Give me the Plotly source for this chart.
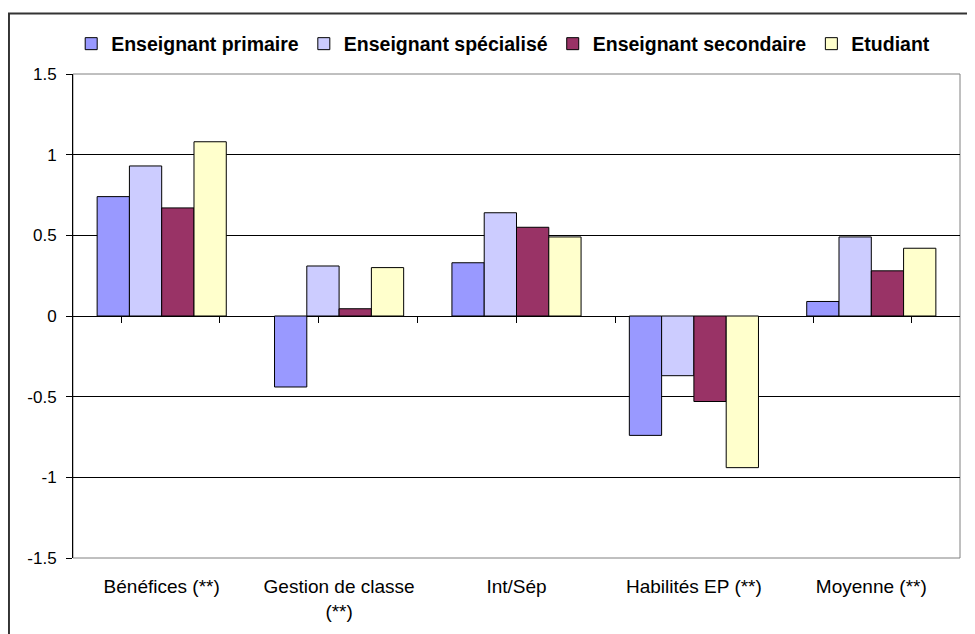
import plotly.graph_objects as go

categories = ["Bénéfices (**)", "Gestion de classe<br>(**)", "Int/Sép", "Habilités EP (**)", "Moyenne (**)"]
series_names = ["Enseignant primaire", "Enseignant spécialisé", "Enseignant secondaire", "Etudiant"]
primaire = [0.74, -0.44, 0.33, -0.74, 0.09]
specialise = [0.93, 0.31, 0.64, -0.37, 0.49]
secondaire = [0.67, 0.045, 0.55, -0.53, 0.28]
etudiant = [1.08, 0.30, 0.49, -0.94, 0.42]
y_ticks = [1.5, 1, 0.5, 0, -0.5, -1, -1.5]
y_tick_text = ["1.5", "1", "0.5", "0", "-0.5", "-1", "-1.5"]

colors = ["#9999FF", "#CCCCFF", "#993366", "#FFFFCC"]
all_series = [primaire, specialise, secondaire, etudiant]

fig = go.Figure()
for name, vals, col in zip(series_names, all_series, colors):
    fig.add_trace(go.Bar(
        x=categories, y=vals, name=name,
        marker=dict(color=col, line=dict(color="#000000", width=1)),
    ))

# invisible helper traces so the zero-line tick axes get drawn
for ax in ["x2", "x3"]:
    fig.add_trace(go.Scatter(
        x=categories, y=primaire, xaxis=ax, mode="markers",
        marker=dict(opacity=0), showlegend=False, hoverinfo="skip",
    ))

font_family = "Liberation Sans, Arial, sans-serif"

# page body adds an 8px offset, so the figure is 8px smaller on each axis
fig.update_layout(
    width=967, height=626,
    margin=dict(l=65, r=15, t=66, b=67),
    paper_bgcolor="white", plot_bgcolor="white",
    barmode="group", bargap=0.272, bargroupgap=0,
    font=dict(family=font_family, color="#000000"),
    showlegend=True,
    legend=dict(
        orientation="h", x=0.485, xanchor="center", y=1.062, yanchor="middle",
        font=dict(family=font_family, size=19.5, color="#000000", weight="bold"),
        traceorder="normal", itemwidth=30, bgcolor="rgba(0,0,0,0)",
    ),
    xaxis=dict(
        type="category", categoryorder="array", categoryarray=categories,
        showgrid=False, showline=False, zeroline=False, ticks="",
        tickfont=dict(family=font_family, size=19, color="#000000"),
        ticklabelstandoff=15,
    ),
    xaxis2=dict(
        type="category", categoryorder="array", categoryarray=categories,
        overlaying="x", anchor="free", position=0.5,
        showgrid=False, zeroline=False, showline=True, linecolor="#000000", linewidth=1,
        ticks="outside", ticklen=6, tickcolor="#000000", tickwidth=1,
        tickson="boundaries", showticklabels=False, layer="below traces",
    ),
    xaxis3=dict(
        type="category", categoryorder="array", categoryarray=categories,
        overlaying="x", anchor="free", position=0.5,
        showgrid=False, zeroline=False, showline=False,
        ticks="outside", ticklen=6, tickcolor="#000000", tickwidth=1,
        tickson="labels", showticklabels=False, layer="below traces",
    ),
    yaxis=dict(
        range=[-1.5, 1.5], tickvals=y_ticks, ticktext=y_tick_text,
        showgrid=True, gridcolor="#000000", gridwidth=1,
        zeroline=False, showline=True, linecolor="#000000", linewidth=1,
        ticks="outside", ticklen=6, tickcolor="#000000",
        tickfont=dict(family=font_family, size=17, color="#000000"),
        ticklabelstandoff=6, layer="below traces",
    ),
    shapes=[
        dict(type="rect", xref="paper", yref="paper", x0=0, x1=1, y0=0, y1=1,
             line=dict(color="#808080", width=1), layer="below"),
        dict(type="rect", xref="paper", yref="paper", x0=-0.0722, x1=1.05, y0=-0.2, y1=1.125,
             line=dict(color="#333333", width=2), layer="above"),
    ],
)

fig.write_html("out.html")
